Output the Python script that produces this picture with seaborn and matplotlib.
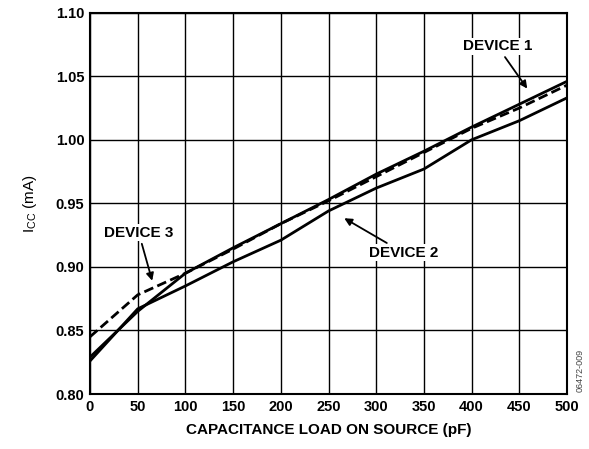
import numpy as np
import pandas as pd
import matplotlib
matplotlib.use("Agg")
import matplotlib.pyplot as plt
import seaborn as sns

# valores
cap_pf = [0, 50, 100, 150, 200, 250, 300, 350, 400, 450, 500]
device_1 = [0.829, 0.865, 0.895, 0.915, 0.934, 0.953, 0.973, 0.991, 1.010, 1.028, 1.046]
device_2 = [0.826, 0.867, 0.885, 0.904, 0.921, 0.944, 0.962, 0.977, 1.000, 1.015, 1.033]
device_3 = [0.845, 0.878, 0.895, 0.914, 0.934, 0.952, 0.971, 0.990, 1.009, 1.025, 1.043]

x_ticks = [0, 50, 100, 150, 200, 250, 300, 350, 400, 450, 500]
y_ticks = [0.80, 0.85, 0.90, 0.95, 1.00, 1.05, 1.10]

sns.set_style("white")
plt.rcParams['font.family'] = ['Liberation Sans', 'DejaVu Sans']
plt.rcParams['text.color'] = 'black'
plt.rcParams['axes.labelcolor'] = 'black'
plt.rcParams['xtick.color'] = 'black'
plt.rcParams['ytick.color'] = 'black'
plt.rcParams['mathtext.fontset'] = 'custom'
plt.rcParams['mathtext.rm'] = 'Liberation Sans'
plt.rcParams['mathtext.bf'] = 'Liberation Sans:bold'

df = pd.DataFrame({
    'cap': cap_pf * 3,
    'icc': device_1 + device_2 + device_3,
    'device': ['DEVICE 1'] * len(cap_pf) + ['DEVICE 2'] * len(cap_pf) + ['DEVICE 3'] * len(cap_pf),
})

fig = plt.figure(figsize=(5.89, 4.49), dpi=100)
ax = fig.add_axes([90 / 589, 1 - 394 / 449, 477 / 589, 381.3 / 449])

sns.lineplot(data=df, x='cap', y='icc', hue='device', style='device',
             palette={'DEVICE 1': 'black', 'DEVICE 2': 'black', 'DEVICE 3': 'black'},
             dashes={'DEVICE 1': '', 'DEVICE 2': '', 'DEVICE 3': (3.5, 1.6)},
             linewidth=2.0, legend=False, ax=ax, zorder=3)

ax.set_xlim(0, 500)
ax.set_ylim(0.80, 1.10)
ax.set_xticks(x_ticks)
ax.set_yticks(y_ticks)
ax.set_xticklabels([str(v) for v in x_ticks], fontsize=10.5, fontweight='bold')
ax.set_yticklabels([f"{v:.2f}" for v in y_ticks], fontsize=10.5, fontweight='bold')
ax.tick_params(length=0, pad=4)
ax.grid(True, color='black', linewidth=1.0)
for s in ax.spines.values():
    s.set_color('black')
    s.set_linewidth(1.5)

ax.set_xlabel("CAPACITANCE LOAD ON SOURCE (pF)", fontsize=11, fontweight='bold', labelpad=7)
ax.set_ylabel(r"I$_{\mathrm{CC}}$ (mA)", fontsize=11, labelpad=12)

# rótulos com setas
arrow = dict(arrowstyle='-|>', color='black', lw=1.3, mutation_scale=11)
ax.annotate("DEVICE 1", xy=(460, 1.0385), xytext=(427, 1.0736), fontsize=11,
            fontweight='bold', ha='center', va='center', arrowprops=arrow,
            bbox=dict(boxstyle='square,pad=0.1', fc='white', ec='none'))
ax.annotate("DEVICE 2", xy=(264, 0.9394), xytext=(329, 0.911), fontsize=11,
            fontweight='bold', ha='center', va='center', arrowprops=arrow,
            bbox=dict(boxstyle='square,pad=0.1', fc='white', ec='none'))
ax.annotate("DEVICE 3", xy=(66, 0.887), xytext=(51, 0.927), fontsize=11,
            fontweight='bold', ha='center', va='center', arrowprops=arrow,
            bbox=dict(boxstyle='square,pad=0.1', fc='white', ec='none'))

fig.text(580 / 589, 1 - 370 / 449, "06472-009", rotation=90, fontsize=6.5,
         color='#444444', ha='center', va='center')

fig.savefig("out.png", dpi=100)
